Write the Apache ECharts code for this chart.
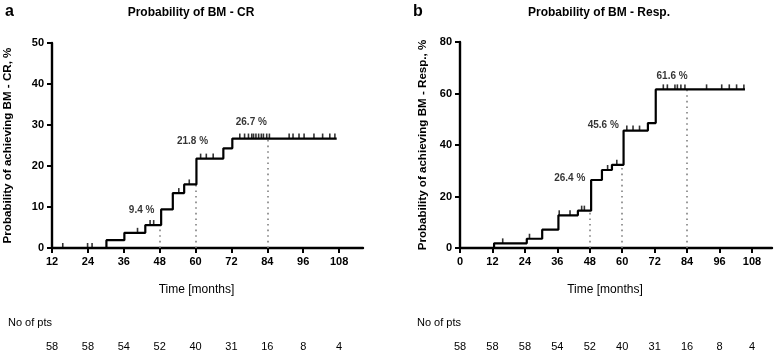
<!DOCTYPE html>
<html>
<head>
<meta charset="utf-8">
<script src="https://cdn.jsdelivr.net/npm/echarts@6/dist/echarts.min.js"></script>
<style>
  html, body { margin: 0; padding: 0; background: #fff; }
  #chart { width: 775px; height: 353px; }
</style>
</head>
<body>
<div id="chart"></div>
<script>
// panel a - BM CR, step curve (month, %)
var stepA = [[12, 0], [30.2, 1.9], [36.2, 3.7], [43.2, 5.6], [48.5, 9.4], [52.4, 13.4], [56.2, 15.5], [60.3, 21.8], [69.3, 24.3], [72.3, 26.7], [107.2, 26.7]];
var censorA = [[15.6, 0], [23.9, 0], [25.4, 0], [40.6, 3.7], [44.8, 5.6], [46, 5.6], [54.4, 13.4], [57.9, 15.5],
  [61.7, 21.8], [63.6, 21.8], [65.9, 21.8],
  [74.8, 26.7], [76.4, 26.7], [77.7, 26.7], [78.8, 26.7], [79.4, 26.7], [80.2, 26.7], [81.1, 26.7], [82, 26.7], [82.7, 26.7], [83.8, 26.7], [84.7, 26.7],
  [91.3, 26.7], [92.6, 26.7], [94.6, 26.7], [96.3, 26.7], [99.6, 26.7], [102.5, 26.7], [104.9, 26.7], [106.6, 26.7]];
var cutMonthsA = [48, 60, 84];
var cutLevelsA = [5.6, 15.5, 26.7];
var cutLabelsA = [9.4, 21.8, 26.7];
var ticksA = [12, 24, 36, 48, 60, 72, 84, 96, 108];
var ptsA = [58, 58, 54, 52, 40, 31, 16, 8, 4];

// panel b - BM response
var stepB = [[0, 0], [12.6, 1.8], [24.7, 3.6], [30.4, 7.1], [36.4, 12.7], [43.6, 14.5], [48.5, 26.4], [52.5, 30.3], [56.2, 32.3], [60.5, 45.6], [69.5, 48.5], [72.4, 61.6], [105.4, 61.6]];
var censorB = [[15.8, 1.8], [25.7, 3.6], [36.7, 12.7], [40.7, 12.7], [45, 14.5], [46, 14.5], [54.6, 30.3], [58, 32.3],
  [61.7, 45.6], [64, 45.6], [66.4, 45.6],
  [75.2, 61.6], [76.7, 61.6], [79.5, 61.6], [80.4, 61.6], [81.7, 61.6], [83.2, 61.6],
  [91.2, 61.6], [96.8, 61.6], [99.6, 61.6], [102.3, 61.6], [105, 61.6]];
var cutMonthsB = [48, 60, 84];
var cutLevelsB = [14.5, 32.3, 61.6];
var cutLabelsB = [26.4, 45.6, 61.6];
var ticksB = [0, 12, 24, 36, 48, 60, 72, 84, 96, 108];
var ptsB = [58, 58, 58, 54, 52, 40, 31, 16, 8, 4];

var FONT = '"Liberation Sans", Arial, sans-serif';

function makeXAxes(gridIndex, min, max, ticks, pts) {
    var main = {
        type: 'value', gridIndex: gridIndex, min: min, max: max,
        name: 'Time [months]', nameLocation: 'middle', nameGap: 36,
        nameTextStyle: { fontFamily: FONT, fontSize: 12, color: '#000', padding: [0, 22, 0, 0] },
        axisLine: { lineStyle: { color: '#000', width: 2.4 } },
        axisTick: { customValues: ticks, length: 5, lineStyle: { color: '#000', width: 2 } },
        axisLabel: { customValues: ticks, fontFamily: FONT, fontWeight: 'bold', fontSize: 11, color: '#000', margin: 8 },
        splitLine: { show: false }
    };
    // numbers at risk row, same scale as the time axis
    var risk = {
        type: 'value', gridIndex: gridIndex, min: min, max: max, position: 'bottom', offset: 85,
        axisLine: { show: false }, axisTick: { show: false }, splitLine: { show: false },
        axisLabel: {
            customValues: ticks, fontFamily: FONT, fontSize: 11, color: '#000', margin: 8,
            formatter: function (v) {
                var i = ticks.indexOf(v);
                return i >= 0 ? String(pts[i]) : '';
            }
        }
    };
    return [main, risk];
}

function makeYAxis(gridIndex, max, interval, name, gap) {
    return {
        type: 'value', gridIndex: gridIndex, min: 0, max: max, interval: interval,
        name: name, nameLocation: 'middle', nameGap: gap,
        nameTextStyle: { fontFamily: FONT, fontSize: 11.6, fontWeight: 'bold', color: '#000' },
        axisLine: { show: true, lineStyle: { color: '#000', width: 2.4 } },
        axisTick: { show: true, length: 5, lineStyle: { color: '#000', width: 2 } },
        axisLabel: { fontFamily: FONT, fontWeight: 'bold', fontSize: 11, color: '#000', margin: 8 },
        splitLine: { show: false }
    };
}

function makeSeries(idx, step, censor, cutMonths, cutLevels, cutLabels, labelOffsets) {
    var xi = idx * 2, yi = idx;
    var markLines = [];
    for (var i = 0; i < cutMonths.length; i++) {
        markLines.push([{ coord: [cutMonths[i], 0] }, { coord: [cutMonths[i], cutLevels[i]] }]);
    }
    var labelData = [];
    for (var j = 0; j < cutMonths.length; j++) {
        labelData.push({
            value: [cutMonths[j], cutLabels[j]],
            label: { offset: labelOffsets[j] }
        });
    }
    return [
        {
            type: 'line', xAxisIndex: xi, yAxisIndex: yi, step: 'end', data: step,
            showSymbol: false, symbol: 'none', z: 5,
            lineStyle: { color: '#000', width: 2.2 },
            markLine: {
                silent: true, symbol: 'none', label: { show: false },
                lineStyle: { color: '#808080', width: 1.6, type: [1.6, 4] },
                data: markLines
            }
        },
        {
            type: 'scatter', xAxisIndex: xi, yAxisIndex: yi, data: censor, z: 6,
            symbol: 'rect', symbolSize: [1.6, 5], symbolOffset: [0, -2.5],
            itemStyle: { color: '#000' }
        },
        {
            type: 'scatter', xAxisIndex: xi, yAxisIndex: yi, data: labelData, symbolSize: 0, z: 7,
            label: {
                show: true, position: 'inside', fontFamily: FONT, fontWeight: 'bold', fontSize: 10, color: '#000',
                formatter: function (p) { return p.value[1].toFixed(1) + ' %'; }
            }
        }
    ];
}

var chart = echarts.init(document.getElementById('chart'), null, { renderer: 'canvas' });

var xA = makeXAxes(0, 12, 116, ticksA, ptsA);
var xB = makeXAxes(1, 0, 115.4, ticksB, ptsB);

var option = {
    animation: false,
    backgroundColor: '#fff',
    grid: [
        { left: 52, top: 43, width: 311, height: 205 },
        { left: 460, top: 42, width: 312, height: 206 }
    ],
    xAxis: [xA[0], xA[1], xB[0], xB[1]],
    yAxis: [
        makeYAxis(0, 50, 10, 'Probability of achieving BM - CR, %', 38),
        makeYAxis(1, 80, 20, 'Probability of achieving BM - Resp., %', 31)
    ],
    graphic: [
        { type: 'text', left: 5, top: 4, style: { text: 'a', font: 'bold 16px ' + FONT, fill: '#000' } },
        { type: 'text', left: 413, top: 4, style: { text: 'b', font: 'bold 16px ' + FONT, fill: '#000' } },
        { type: 'text', x: 191, y: 13, style: { text: 'Probability of BM - CR', font: 'bold 12px ' + FONT, fill: '#000', align: 'center', verticalAlign: 'middle' } },
        { type: 'text', x: 599, y: 13, style: { text: 'Probability of BM - Resp.', font: 'bold 12px ' + FONT, fill: '#000', align: 'center', verticalAlign: 'middle' } },
        { type: 'text', x: 8, y: 323, style: { text: 'No of pts', font: '11px ' + FONT, fill: '#000', verticalAlign: 'middle' } },
        { type: 'text', x: 417, y: 323, style: { text: 'No of pts', font: '11px ' + FONT, fill: '#000', verticalAlign: 'middle' } }
    ],
    series: [].concat(
        makeSeries(0, stepA, censorA, cutMonthsA, cutLevelsA, cutLabelsA, [[-18, 1], [-3, -17], [-16, -16]]),
        makeSeries(1, stepB, censorB, cutMonthsB, cutLevelsB, cutLabelsB, [[-20, -2], [-19, -5], [-15, -13]])
    )
};

chart.setOption(option);
</script>
</body>
</html>
